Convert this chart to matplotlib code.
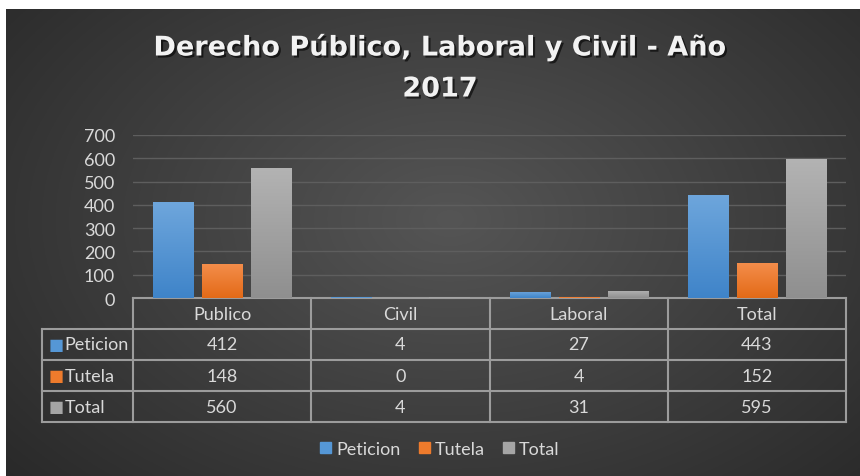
import numpy as np
import matplotlib
matplotlib.use("Agg")
import matplotlib.pyplot as plt
from matplotlib.patches import Patch
from matplotlib.lines import Line2D
from matplotlib.transforms import blended_transform_factory
import matplotlib.patheffects as pe

categories = ["Publico", "Civil", "Laboral", "Total"]
series_names = ["Peticion", "Tutela", "Total"]
peticion = [412, 4, 27, 443]
tutela = [148, 0, 4, 152]
total = [560, 4, 31, 595]
series_values = [peticion, tutela, total]
yticks = [0, 100, 200, 300, 400, 500, 600, 700]
title = "Derecho Público, Laboral y Civil - Año\n2017"

colors_top = ["#6ea6dc", "#f48e4c", "#b3b3b3"]
colors_bot = ["#3f84c9", "#e36a17", "#8f8f8f"]
colors_mid = ["#5597d6", "#ee7b2c", "#a5a5a5"]
txt = "#d9d9d9"
linec = "#9c9c9c"

plt.rcParams["font.family"] = ["Lato", "DejaVu Sans"]

W, H = 860, 477
fig = plt.figure(figsize=(W / 100, H / 100), dpi=100)
fig.patch.set_facecolor("white")

# background panel with radial gradient
bg = fig.add_axes([6 / W, 0, 1 - 6 / W, 1 - 10 / H])
bg.set_axis_off()
yy, xx = np.mgrid[0:1:300j, 0:1:500j]
r = np.sqrt(((xx - 0.52) / 0.75) ** 2 + ((yy - 0.45) / 0.9) ** 2)
r = np.clip(r, 0, 1)
c0 = np.array([0x55, 0x55, 0x55]) / 255
c1 = np.array([0x26, 0x26, 0x26]) / 255
img = c0[None, None, :] * (1 - r[..., None]) + c1[None, None, :] * r[..., None]
bg.imshow(img, extent=[0, 1, 0, 1], aspect="auto", origin="upper")
bg.set_xlim(0, 1)
bg.set_ylim(0, 1)

# main axes
left, right = 133 / W, 846 / W
bottom, top = 1 - 299 / H, 1 - 136 / H
ax = fig.add_axes([left, bottom, right - left, top - bottom])
ax.patch.set_alpha(0)
for s in ax.spines.values():
    s.set_visible(False)

x = np.arange(len(categories))
width = 0.225
offsets = [-0.275, 0.0, 0.275]
grad = np.linspace(1, 0, 100)[:, None]
for i, vals in enumerate(series_values):
    bars = ax.bar(x + offsets[i], vals, width, color=colors_mid[i],
                  edgecolor=colors_bot[i], linewidth=0.6, zorder=3)
    ct = np.array(matplotlib.colors.to_rgb(colors_top[i]))
    cb = np.array(matplotlib.colors.to_rgb(colors_bot[i]))
    gimg = (ct[None, None, :] * grad[..., None] + cb[None, None, :] * (1 - grad[..., None]))
    for b in bars:
        if b.get_height() <= 0:
            continue
        im = ax.imshow(gimg, extent=[b.get_x(), b.get_x() + b.get_width(), 0, b.get_height()],
                       aspect="auto", zorder=3.5, origin="upper")
        im.set_clip_path(b)

ax.set_xlim(-0.5, len(categories) - 0.5)
ax.set_ylim(0, 700)
ax.set_yticks(yticks)
ax.set_yticklabels([str(v) for v in yticks], fontsize=13, color=txt)
ax.tick_params(axis="y", length=0, pad=13)
ax.set_xticks([])
ax.yaxis.grid(True, color="#5e5e5e", linewidth=1.0, zorder=0)
ax.set_axisbelow(True)

# data table
tr = blended_transform_factory(ax.transData, ax.transAxes)
rowh = 31 / 163
lblw = 0.51
x0, x1 = -0.5, len(categories) - 0.5
nrows = len(series_names)
ybot = -rowh * (nrows + 1)
kw = dict(color=linec, linewidth=1.5, transform=tr, clip_on=False)
ax.add_line(Line2D([x0, x1], [0, 0], **kw))
for k in range(1, nrows + 2):
    ax.add_line(Line2D([x0 - lblw, x1], [-rowh * k] * 2, **kw))
for k in range(len(categories) + 1):
    ax.add_line(Line2D([x0 + k] * 2, [0, ybot], **kw))
ax.add_line(Line2D([x0 - lblw] * 2, [-rowh, ybot], **kw))
for j, c in enumerate(categories):
    ax.text(x[j], -rowh * 0.5, c, transform=tr, ha="center", va="center",
            fontsize=13, color=txt)
for i, name in enumerate(series_names):
    yc = -rowh * (i + 1.5)
    ax.text(x0 - lblw + 0.035, yc, "■", transform=tr, ha="left", va="center",
            fontsize=11.5, color=colors_mid[i], family="DejaVu Sans")
    ax.text(x0 - lblw + 0.125, yc, name, transform=tr, ha="left", va="center",
            fontsize=13, color=txt)
    for j, v in enumerate(series_values[i]):
        ax.text(x[j], yc, str(v), transform=tr, ha="center", va="center",
                fontsize=13, color=txt)

# title
fig.text(440 / W, 1 - 69 / H, title, ha="center", va="center", fontsize=19.5,
         fontweight="bold", color="#f2f2f2", linespacing=1.75, family="DejaVu Sans",
         path_effects=[pe.withSimplePatchShadow(offset=(1.5, -1.5), shadow_rgbFace="black", alpha=0.6)])

# legend
handles = [Patch(facecolor=colors_mid[i], edgecolor=colors_mid[i]) for i in range(nrows)]
leg = fig.legend(handles, series_names, loc="center", bbox_to_anchor=(440 / W, 1 - 450 / H),
                 ncol=3, frameon=False, fontsize=13, handlelength=0.6, handleheight=0.6,
                 handletextpad=0.3, columnspacing=1.0)
for t in leg.get_texts():
    t.set_color(txt)

fig.savefig("out.png", dpi=100, facecolor=fig.get_facecolor())
